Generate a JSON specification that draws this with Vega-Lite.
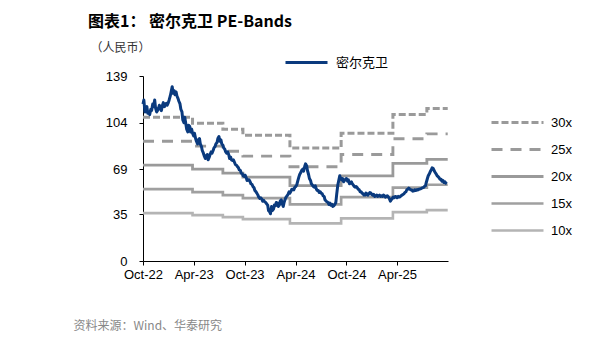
{
  "$schema": "https://vega.github.io/schema/vega-lite/v6.json",
  "width": 305,
  "height": 185,
  "autosize": {"type": "none"},
  "padding": {"left": 143, "top": 76, "right": 168, "bottom": 82},
  "background": "white",
  "config": {"view": {"stroke": null}, "font": "Liberation Sans"},
  "title": {
    "text": "图表1： 密尔克卫 PE-Bands",
    "anchor": "start",
    "frame": "group",
    "dx": -55,
    "offset": 10,
    "font": "Noto Sans CJK SC",
    "fontSize": 16,
    "fontWeight": "bold",
    "color": "#000000"
  },
  "datasets": {
    "price": [
      {"date": "2022-10-01", "price": 118}, {"date": "2022-10-04", "price": 121}, {"date": "2022-10-08", "price": 112}, {"date": "2022-10-11", "price": 114},
      {"date": "2022-10-15", "price": 116}, {"date": "2022-10-18", "price": 111}, {"date": "2022-10-22", "price": 112}, {"date": "2022-10-25", "price": 110},
      {"date": "2022-10-29", "price": 114}, {"date": "2022-11-01", "price": 113}, {"date": "2022-11-05", "price": 118}, {"date": "2022-11-08", "price": 116},
      {"date": "2022-11-12", "price": 121}, {"date": "2022-11-15", "price": 115}, {"date": "2022-11-19", "price": 112}, {"date": "2022-11-22", "price": 113},
      {"date": "2022-11-26", "price": 115}, {"date": "2022-11-29", "price": 117}, {"date": "2022-12-03", "price": 114}, {"date": "2022-12-06", "price": 113},
      {"date": "2022-12-10", "price": 117}, {"date": "2022-12-13", "price": 119}, {"date": "2022-12-17", "price": 116}, {"date": "2022-12-20", "price": 117},
      {"date": "2022-12-24", "price": 118.5}, {"date": "2022-12-27", "price": 117}, {"date": "2022-12-31", "price": 119}, {"date": "2023-01-03", "price": 121},
      {"date": "2023-01-07", "price": 124}, {"date": "2023-01-10", "price": 127}, {"date": "2023-01-14", "price": 131}, {"date": "2023-01-17", "price": 126},
      {"date": "2023-01-21", "price": 128}, {"date": "2023-01-24", "price": 125}, {"date": "2023-01-28", "price": 127}, {"date": "2023-01-31", "price": 124},
      {"date": "2023-02-04", "price": 122}, {"date": "2023-02-07", "price": 120}, {"date": "2023-02-11", "price": 118}, {"date": "2023-02-14", "price": 114},
      {"date": "2023-02-18", "price": 112}, {"date": "2023-02-21", "price": 106}, {"date": "2023-02-25", "price": 104}, {"date": "2023-02-28", "price": 108},
      {"date": "2023-03-04", "price": 103}, {"date": "2023-03-07", "price": 99}, {"date": "2023-03-11", "price": 97}, {"date": "2023-03-14", "price": 102},
      {"date": "2023-03-18", "price": 101}, {"date": "2023-03-21", "price": 97}, {"date": "2023-03-25", "price": 99}, {"date": "2023-03-28", "price": 96},
      {"date": "2023-04-01", "price": 94}, {"date": "2023-04-04", "price": 96}, {"date": "2023-04-08", "price": 92}, {"date": "2023-04-11", "price": 90},
      {"date": "2023-04-15", "price": 88}, {"date": "2023-04-18", "price": 91}, {"date": "2023-04-22", "price": 92}, {"date": "2023-04-25", "price": 88},
      {"date": "2023-04-29", "price": 86}, {"date": "2023-05-02", "price": 83}, {"date": "2023-05-06", "price": 81}, {"date": "2023-05-09", "price": 79},
      {"date": "2023-05-13", "price": 77}, {"date": "2023-05-16", "price": 79}, {"date": "2023-05-20", "price": 80}, {"date": "2023-05-23", "price": 76},
      {"date": "2023-05-27", "price": 78}, {"date": "2023-05-30", "price": 80}, {"date": "2023-06-03", "price": 82}, {"date": "2023-06-06", "price": 81},
      {"date": "2023-06-10", "price": 83}, {"date": "2023-06-13", "price": 85}, {"date": "2023-06-17", "price": 86}, {"date": "2023-06-20", "price": 88},
      {"date": "2023-06-24", "price": 89}, {"date": "2023-06-27", "price": 92}, {"date": "2023-07-01", "price": 93.5}, {"date": "2023-07-04", "price": 90},
      {"date": "2023-07-08", "price": 91}, {"date": "2023-07-11", "price": 88}, {"date": "2023-07-15", "price": 87}, {"date": "2023-07-18", "price": 85},
      {"date": "2023-07-22", "price": 84}, {"date": "2023-07-25", "price": 82}, {"date": "2023-07-29", "price": 81}, {"date": "2023-08-01", "price": 82},
      {"date": "2023-08-05", "price": 80}, {"date": "2023-08-08", "price": 77}, {"date": "2023-08-12", "price": 78}, {"date": "2023-08-15", "price": 76},
      {"date": "2023-08-19", "price": 75.5}, {"date": "2023-08-22", "price": 76}, {"date": "2023-08-26", "price": 74}, {"date": "2023-08-29", "price": 72.5},
      {"date": "2023-09-02", "price": 72}, {"date": "2023-09-05", "price": 71}, {"date": "2023-09-09", "price": 70}, {"date": "2023-09-12", "price": 68.5},
      {"date": "2023-09-16", "price": 68}, {"date": "2023-09-19", "price": 66}, {"date": "2023-09-23", "price": 65.5}, {"date": "2023-09-26", "price": 64},
      {"date": "2023-09-30", "price": 63.5}, {"date": "2023-10-03", "price": 64.5}, {"date": "2023-10-07", "price": 62.5}, {"date": "2023-10-10", "price": 60.5},
      {"date": "2023-10-14", "price": 61}, {"date": "2023-10-17", "price": 61}, {"date": "2023-10-21", "price": 59.5}, {"date": "2023-10-24", "price": 58},
      {"date": "2023-10-28", "price": 57.5}, {"date": "2023-10-31", "price": 56}, {"date": "2023-11-04", "price": 55}, {"date": "2023-11-07", "price": 53},
      {"date": "2023-11-11", "price": 52}, {"date": "2023-11-14", "price": 51}, {"date": "2023-11-18", "price": 49.5}, {"date": "2023-11-21", "price": 48},
      {"date": "2023-11-25", "price": 47}, {"date": "2023-11-28", "price": 47.5}, {"date": "2023-12-02", "price": 46.5}, {"date": "2023-12-05", "price": 45},
      {"date": "2023-12-09", "price": 45.5}, {"date": "2023-12-12", "price": 44.5}, {"date": "2023-12-16", "price": 44}, {"date": "2023-12-19", "price": 43},
      {"date": "2023-12-23", "price": 42}, {"date": "2023-12-26", "price": 38}, {"date": "2023-12-30", "price": 37}, {"date": "2024-01-02", "price": 35.5},
      {"date": "2024-01-06", "price": 41}, {"date": "2024-01-09", "price": 38}, {"date": "2024-01-13", "price": 39}, {"date": "2024-01-16", "price": 42},
      {"date": "2024-01-20", "price": 41.5}, {"date": "2024-01-23", "price": 44}, {"date": "2024-01-27", "price": 43.5}, {"date": "2024-01-30", "price": 41},
      {"date": "2024-02-03", "price": 42}, {"date": "2024-02-06", "price": 45}, {"date": "2024-02-10", "price": 46}, {"date": "2024-02-13", "price": 43},
      {"date": "2024-02-17", "price": 41}, {"date": "2024-02-20", "price": 44}, {"date": "2024-02-24", "price": 46.5}, {"date": "2024-02-27", "price": 48},
      {"date": "2024-03-02", "price": 49}, {"date": "2024-03-05", "price": 50}, {"date": "2024-03-09", "price": 52}, {"date": "2024-03-12", "price": 51},
      {"date": "2024-03-16", "price": 52.5}, {"date": "2024-03-19", "price": 54}, {"date": "2024-03-23", "price": 54}, {"date": "2024-03-26", "price": 53.5},
      {"date": "2024-03-30", "price": 55.5}, {"date": "2024-04-02", "price": 56}, {"date": "2024-04-06", "price": 57.5}, {"date": "2024-04-09", "price": 60},
      {"date": "2024-04-13", "price": 63}, {"date": "2024-04-16", "price": 65}, {"date": "2024-04-20", "price": 66.5}, {"date": "2024-04-23", "price": 68},
      {"date": "2024-04-27", "price": 69}, {"date": "2024-04-30", "price": 67.5}, {"date": "2024-05-04", "price": 71}, {"date": "2024-05-07", "price": 73},
      {"date": "2024-05-11", "price": 71.5}, {"date": "2024-05-14", "price": 68}, {"date": "2024-05-18", "price": 65}, {"date": "2024-05-21", "price": 62},
      {"date": "2024-05-25", "price": 60.5}, {"date": "2024-05-28", "price": 58}, {"date": "2024-06-01", "price": 57}, {"date": "2024-06-04", "price": 56},
      {"date": "2024-06-08", "price": 55.5}, {"date": "2024-06-11", "price": 56.5}, {"date": "2024-06-15", "price": 54}, {"date": "2024-06-18", "price": 53},
      {"date": "2024-06-22", "price": 53}, {"date": "2024-06-25", "price": 51.5}, {"date": "2024-06-29", "price": 52}, {"date": "2024-07-02", "price": 51},
      {"date": "2024-07-06", "price": 50.5}, {"date": "2024-07-09", "price": 49}, {"date": "2024-07-13", "price": 48.5}, {"date": "2024-07-16", "price": 46},
      {"date": "2024-07-20", "price": 45}, {"date": "2024-07-23", "price": 44.5}, {"date": "2024-07-27", "price": 44}, {"date": "2024-07-30", "price": 42.5},
      {"date": "2024-08-03", "price": 43.5}, {"date": "2024-08-06", "price": 42}, {"date": "2024-08-10", "price": 42.5}, {"date": "2024-08-13", "price": 41},
      {"date": "2024-08-17", "price": 41.5}, {"date": "2024-08-20", "price": 42.5}, {"date": "2024-08-24", "price": 44}, {"date": "2024-08-27", "price": 50},
      {"date": "2024-08-31", "price": 57}, {"date": "2024-09-03", "price": 60}, {"date": "2024-09-07", "price": 64}, {"date": "2024-09-10", "price": 62},
      {"date": "2024-09-14", "price": 61}, {"date": "2024-09-17", "price": 62}, {"date": "2024-09-21", "price": 59.5}, {"date": "2024-09-24", "price": 60.5},
      {"date": "2024-09-28", "price": 61.5}, {"date": "2024-10-01", "price": 62}, {"date": "2024-10-05", "price": 60}, {"date": "2024-10-08", "price": 61},
      {"date": "2024-10-12", "price": 58}, {"date": "2024-10-15", "price": 58.5}, {"date": "2024-10-19", "price": 59.5}, {"date": "2024-10-22", "price": 58},
      {"date": "2024-10-26", "price": 57}, {"date": "2024-10-29", "price": 56}, {"date": "2024-11-02", "price": 55.5}, {"date": "2024-11-05", "price": 56},
      {"date": "2024-11-09", "price": 55}, {"date": "2024-11-12", "price": 54}, {"date": "2024-11-16", "price": 53.5}, {"date": "2024-11-19", "price": 52},
      {"date": "2024-11-23", "price": 52}, {"date": "2024-11-26", "price": 51}, {"date": "2024-11-30", "price": 50.5}, {"date": "2024-12-03", "price": 49.5},
      {"date": "2024-12-07", "price": 49.5}, {"date": "2024-12-10", "price": 51}, {"date": "2024-12-14", "price": 50.5}, {"date": "2024-12-17", "price": 49.5},
      {"date": "2024-12-21", "price": 50.5}, {"date": "2024-12-24", "price": 51.5}, {"date": "2024-12-28", "price": 51}, {"date": "2024-12-31", "price": 50},
      {"date": "2025-01-04", "price": 49.5}, {"date": "2025-01-07", "price": 50}, {"date": "2025-01-11", "price": 48.5}, {"date": "2025-01-14", "price": 49},
      {"date": "2025-01-18", "price": 49.5}, {"date": "2025-01-21", "price": 48.5}, {"date": "2025-01-25", "price": 49}, {"date": "2025-01-28", "price": 49.5},
      {"date": "2025-02-01", "price": 48.5}, {"date": "2025-02-04", "price": 49}, {"date": "2025-02-08", "price": 48.5}, {"date": "2025-02-11", "price": 49.5},
      {"date": "2025-02-15", "price": 49}, {"date": "2025-02-18", "price": 48}, {"date": "2025-02-22", "price": 48.5}, {"date": "2025-02-25", "price": 49},
      {"date": "2025-03-01", "price": 48}, {"date": "2025-03-04", "price": 47}, {"date": "2025-03-08", "price": 45}, {"date": "2025-03-11", "price": 46},
      {"date": "2025-03-15", "price": 47}, {"date": "2025-03-18", "price": 48}, {"date": "2025-03-22", "price": 47.5}, {"date": "2025-03-25", "price": 48.5},
      {"date": "2025-03-29", "price": 48.3}, {"date": "2025-04-01", "price": 47.5}, {"date": "2025-04-05", "price": 48.5}, {"date": "2025-04-08", "price": 48},
      {"date": "2025-04-12", "price": 48.3}, {"date": "2025-04-15", "price": 49}, {"date": "2025-04-19", "price": 49.5}, {"date": "2025-04-22", "price": 50},
      {"date": "2025-04-26", "price": 50.5}, {"date": "2025-04-29", "price": 51.5}, {"date": "2025-05-03", "price": 52}, {"date": "2025-05-06", "price": 53.5},
      {"date": "2025-05-10", "price": 54}, {"date": "2025-05-13", "price": 54.8}, {"date": "2025-05-17", "price": 54}, {"date": "2025-05-20", "price": 53.5},
      {"date": "2025-05-24", "price": 53.3}, {"date": "2025-05-27", "price": 52.5}, {"date": "2025-05-31", "price": 52.6}, {"date": "2025-06-03", "price": 53.5},
      {"date": "2025-06-07", "price": 53}, {"date": "2025-06-10", "price": 53.5}, {"date": "2025-06-14", "price": 53.3}, {"date": "2025-06-17", "price": 54},
      {"date": "2025-06-21", "price": 54}, {"date": "2025-06-24", "price": 54.3}, {"date": "2025-06-28", "price": 54.6}, {"date": "2025-07-01", "price": 55},
      {"date": "2025-07-05", "price": 55.3}, {"date": "2025-07-08", "price": 56}, {"date": "2025-07-12", "price": 56.5}, {"date": "2025-07-15", "price": 59},
      {"date": "2025-07-19", "price": 62}, {"date": "2025-07-22", "price": 64}, {"date": "2025-07-26", "price": 65.5}, {"date": "2025-07-29", "price": 67},
      {"date": "2025-08-02", "price": 68.5}, {"date": "2025-08-05", "price": 70}, {"date": "2025-08-09", "price": 69.5}, {"date": "2025-08-12", "price": 68},
      {"date": "2025-08-16", "price": 66.5}, {"date": "2025-08-19", "price": 65.5}, {"date": "2025-08-23", "price": 64}, {"date": "2025-08-26", "price": 63.5},
      {"date": "2025-08-30", "price": 62.5}, {"date": "2025-09-02", "price": 61.5}, {"date": "2025-09-06", "price": 61.5}, {"date": "2025-09-09", "price": 60},
      {"date": "2025-09-13", "price": 60.5}, {"date": "2025-09-16", "price": 59}, {"date": "2025-09-20", "price": 59.5}, {"date": "2025-09-23", "price": 58.5},
      {"date": "2025-09-27", "price": 58}
    ],
    "bands": [
      {"date": "2022-10-01", "band": "30x", "pe": 108}, {"date": "2023-03-28", "band": "30x", "pe": 103.5}, {"date": "2023-07-15", "band": "30x", "pe": 99},
      {"date": "2023-09-25", "band": "30x", "pe": 94.5}, {"date": "2024-03-12", "band": "30x", "pe": 84.9}, {"date": "2024-09-12", "band": "30x", "pe": 96},
      {"date": "2025-03-17", "band": "30x", "pe": 110.1}, {"date": "2025-07-17", "band": "30x", "pe": 114.6}, {"date": "2025-09-30", "band": "30x", "pe": 114.6},
      {"date": "2022-10-01", "band": "25x", "pe": 90}, {"date": "2023-03-28", "band": "25x", "pe": 86.3}, {"date": "2023-07-15", "band": "25x", "pe": 82.5},
      {"date": "2023-09-25", "band": "25x", "pe": 78.8}, {"date": "2024-03-12", "band": "25x", "pe": 70.8}, {"date": "2024-09-12", "band": "25x", "pe": 80},
      {"date": "2025-03-17", "band": "25x", "pe": 91.8}, {"date": "2025-07-17", "band": "25x", "pe": 95.5}, {"date": "2025-09-30", "band": "25x", "pe": 95.5},
      {"date": "2022-10-01", "band": "20x", "pe": 72}, {"date": "2023-03-28", "band": "20x", "pe": 69}, {"date": "2023-07-15", "band": "20x", "pe": 66},
      {"date": "2023-09-25", "band": "20x", "pe": 63}, {"date": "2024-03-12", "band": "20x", "pe": 56.6}, {"date": "2024-09-12", "band": "20x", "pe": 64},
      {"date": "2025-03-17", "band": "20x", "pe": 73.4}, {"date": "2025-07-17", "band": "20x", "pe": 76.4}, {"date": "2025-09-30", "band": "20x", "pe": 76.4},
      {"date": "2022-10-01", "band": "15x", "pe": 54}, {"date": "2023-03-28", "band": "15x", "pe": 51.8}, {"date": "2023-07-15", "band": "15x", "pe": 49.5},
      {"date": "2023-09-25", "band": "15x", "pe": 47.3}, {"date": "2024-03-12", "band": "15x", "pe": 42.5}, {"date": "2024-09-12", "band": "15x", "pe": 48},
      {"date": "2025-03-17", "band": "15x", "pe": 55.1}, {"date": "2025-07-17", "band": "15x", "pe": 57.3}, {"date": "2025-09-30", "band": "15x", "pe": 57.3},
      {"date": "2022-10-01", "band": "10x", "pe": 36}, {"date": "2023-03-28", "band": "10x", "pe": 34.5}, {"date": "2023-07-15", "band": "10x", "pe": 33},
      {"date": "2023-09-25", "band": "10x", "pe": 31.5}, {"date": "2024-03-12", "band": "10x", "pe": 28.3}, {"date": "2024-09-12", "band": "10x", "pe": 32},
      {"date": "2025-03-17", "band": "10x", "pe": 36.7}, {"date": "2025-07-17", "band": "10x", "pe": 38.2}, {"date": "2025-09-30", "band": "10x", "pe": 38.2}
    ]
  },
  "layer": [
    {
      "data": {"name": "bands"},
      "mark": {"type": "line", "interpolate": "step-after"},
      "encoding": {
        "x": {
          "field": "date", "type": "temporal",
          "scale": {"domain": [{"year": 2022, "month": 10, "date": 1}, {"year": 2025, "month": 10, "date": 1}]},
          "axis": {
            "values": [{"year": 2022, "month": 10, "date": 1}, {"year": 2023, "month": 4, "date": 1}, {"year": 2023, "month": 10, "date": 1}, {"year": 2024, "month": 4, "date": 1}, {"year": 2024, "month": 10, "date": 1}, {"year": 2025, "month": 4, "date": 1}],
            "format": "%b-%y",
            "grid": false,
            "domainColor": "#000000",
            "tickColor": "#000000",
            "tickSize": 4,
            "labelFontSize": 13,
            "labelColor": "#000000",
            "labelPadding": 3,
            "labelFlush": false,
            "labelOverlap": false,
            "title": "资料来源：Wind、华泰研究",
            "titleX": -70,
            "titleY": 64,
            "titleAlign": "left",
            "titleAnchor": null,
            "titleBaseline": "middle",
            "titleFont": "Noto Sans CJK SC",
            "titleFontSize": 12,
            "titleFontWeight": "normal",
            "titleColor": "#888888"
          }
        },
        "y": {
          "field": "pe", "type": "quantitative",
          "scale": {"domain": [0, 139], "nice": false},
          "axis": {
            "values": [0, 35, 69, 104, 139],
            "grid": false,
            "domainColor": "#000000",
            "tickColor": "#000000",
            "tickSize": 4,
            "labelFontSize": 13,
            "labelColor": "#000000",
            "labelPadding": 12,
            "title": "（人民币）",
            "titleAngle": 0,
            "titleX": -53,
            "titleY": -29,
            "titleAlign": "left",
            "titleAnchor": null,
            "titleBaseline": "middle",
            "titleFont": "Noto Sans CJK SC",
            "titleFontSize": 12,
            "titleFontWeight": "normal",
            "titleColor": "#333333"
          }
        },
        "stroke": {
          "field": "band", "type": "nominal",
          "scale": {"domain": ["30x", "25x", "20x", "15x", "10x"], "range": ["#9a9a9a", "#9a9a9a", "#9a9a9a", "#a0a0a0", "#b4b4b4"]},
          "legend": {"orient": "none", "legendX": 360, "legendY": 32, "title": null, "symbolType": "M-2,0L2,0", "symbolSize": 676, "symbolFillColor": "transparent", "rowPadding": 5, "labelOffset": 19, "labelFontSize": 13, "labelColor": "#000000", "labelFont": "Liberation Sans"}
        },
        "strokeDash": {
          "field": "band", "type": "nominal",
          "scale": {"domain": ["30x", "25x", "20x", "15x", "10x"], "range": [[7, 3], [11, 8], [1, 0], [1, 0], [1, 0]]},
          "legend": {"orient": "none", "legendX": 360, "legendY": 32, "title": null, "symbolType": "M-2,0L2,0", "symbolSize": 676, "symbolFillColor": "transparent", "rowPadding": 5, "labelOffset": 19, "labelFontSize": 13, "labelColor": "#000000", "labelFont": "Liberation Sans"}
        },
        "strokeWidth": {
          "field": "band", "type": "nominal",
          "scale": {"domain": ["30x", "25x", "20x", "15x", "10x"], "range": [3, 2.6, 2, 1.7, 1.2]},
          "legend": {"orient": "none", "legendX": 360, "legendY": 32, "title": null, "symbolType": "M-2,0L2,0", "symbolSize": 676, "symbolFillColor": "transparent", "rowPadding": 5, "labelOffset": 19, "labelFontSize": 13, "labelColor": "#000000", "labelFont": "Liberation Sans"}
        }
      }
    },
    {
      "data": {"name": "price"},
      "mark": {"type": "line", "strokeWidth": 3, "strokeJoin": "round"},
      "encoding": {
        "x": {"field": "date", "type": "temporal"},
        "y": {"field": "price", "type": "quantitative"},
        "color": {
          "datum": "密尔克卫", "type": "nominal",
          "scale": {"range": ["#0a3a7e"]},
          "legend": {"orient": "none", "legendX": 141, "legendY": -36, "title": null, "symbolType": "stroke", "symbolSize": 1764, "symbolStrokeWidth": 3, "labelOffset": 7, "labelFontSize": 13, "labelColor": "#000000", "labelFont": "Noto Sans CJK SC"}
        }
      }
    }
  ]
}
